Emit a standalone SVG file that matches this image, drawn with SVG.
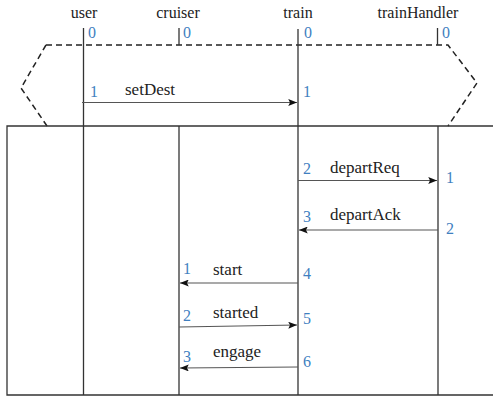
<svg xmlns="http://www.w3.org/2000/svg" width="493" height="396" viewBox="0 0 493 396">
  <style>
    text { font-family: "Liberation Serif", "DejaVu Serif", serif; }
    .name { font-size: 16px; fill: #222; }
    .msg { font-size: 17px; fill: #222; }
    .num { font-size: 16px; fill: #3f7fbf; }
    .life { stroke: #333; stroke-width: 1.3; fill: none; }
    .arrow { stroke: #555; stroke-width: 1.2; fill: none; marker-end: url(#head); }
    .frame { stroke: #333; stroke-width: 1.3; fill: none; }
    .dash { stroke: #222; stroke-width: 1.5; fill: none; stroke-dasharray: 6 4; }
  </style>
  <defs>
    <marker id="head" viewBox="0 0 10 8" refX="10" refY="4" markerWidth="9" markerHeight="7" markerUnits="userSpaceOnUse" orient="auto">
      <path d="M0,0 L10,4 L0,8 L2,4 Z" fill="#111"/>
    </marker>
  </defs>

  <rect width="493" height="396" fill="#fff"/>

  <!-- initial-state bracket -->
  <path class="dash" d="M46,45 L448,45 L477,83 L448,126"/>
  <path class="dash" d="M46,45 L21,88 L47,126"/>

  <!-- frame -->
  <path class="frame" d="M493,126 L7,126 L7,395 L493,395"/>

  <g id="user">
    <text class="name" x="84" y="18" text-anchor="middle">user</text>
    <line class="life" x1="83.5" y1="28" x2="83.5" y2="395"/>
    <text class="num" x="88" y="38">0</text>
  </g>

  <g id="cruiser">
    <text class="name" x="178" y="18" text-anchor="middle">cruiser</text>
    <line class="life" x1="179" y1="28" x2="179" y2="45"/>
    <line class="life" x1="179" y1="126" x2="179" y2="395"/>
    <text class="num" x="183" y="38">0</text>
  </g>

  <g id="train">
    <text class="name" x="298" y="18" text-anchor="middle">train</text>
    <line class="life" x1="298" y1="29" x2="298" y2="395"/>
    <text class="num" x="304" y="38">0</text>
  </g>

  <g id="trainHandler">
    <text class="name" x="418" y="18" text-anchor="middle">trainHandler</text>
    <line class="life" x1="437.5" y1="28" x2="437.5" y2="45"/>
    <line class="life" x1="438" y1="126" x2="438" y2="395"/>
    <text class="num" x="442" y="38">0</text>
  </g>

  <g id="connectors">
    <line class="arrow" x1="82" y1="102.5" x2="297" y2="102.5"/>
    <line class="arrow" x1="298" y1="180.5" x2="437" y2="180.5"/>
    <line class="arrow" x1="438" y1="230" x2="299" y2="230"/>
    <line class="arrow" x1="298" y1="283" x2="180" y2="283"/>
    <line class="arrow" x1="179" y1="327" x2="297" y2="325"/>
    <line class="arrow" x1="298" y1="367" x2="180" y2="368"/>
  </g>

  <g id="labels">
    <text class="num" x="90" y="97">1</text>
    <text class="msg" x="125" y="95">setDest</text>
    <text class="num" x="303" y="97">1</text>

    <text class="num" x="303" y="174">2</text>
    <text class="msg" x="330" y="173">departReq</text>
    <text class="num" x="446" y="183">1</text>

    <text class="num" x="303" y="222">3</text>
    <text class="msg" x="330" y="220">departAck</text>
    <text class="num" x="446" y="234">2</text>

    <text class="num" x="183" y="274">1</text>
    <text class="msg" x="213" y="275">start</text>
    <text class="num" x="303" y="279">4</text>

    <text class="num" x="183" y="321">2</text>
    <text class="msg" x="213" y="318">started</text>
    <text class="num" x="303" y="324">5</text>

    <text class="num" x="183" y="362">3</text>
    <text class="msg" x="213" y="357">engage</text>
    <text class="num" x="303" y="367">6</text>
  </g>
</svg>
